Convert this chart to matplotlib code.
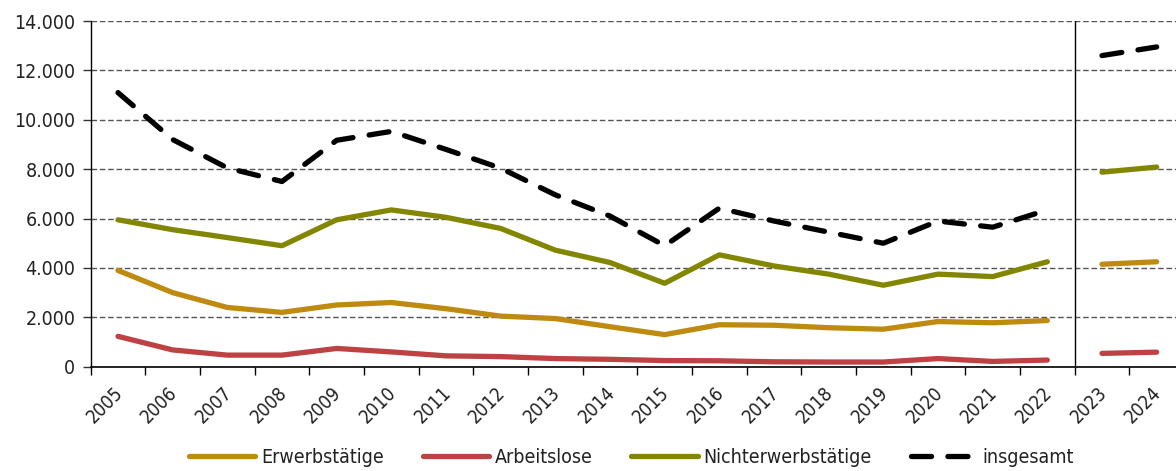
"""
Linienchart: Erwerbstätige, Arbeitslose, Nichterwerbstätige und insgesamt, 2005-2024.
"""
import matplotlib
matplotlib.use("Agg")
import matplotlib.pyplot as plt
import matplotlib.ticker as mticker
import matplotlib.transforms as mtransforms

plt.rcParams['font.family'] = ['DejaVu Sans']
plt.rcParams['font.stretch'] = 'condensed'

jahre = [str(j) for j in range(2005, 2025)]
erwerbstaetige = [3900, 3000, 2400, 2200, 2500, 2600, 2350, 2050, 1950, 1620,
                  1300, 1700, 1680, 1580, 1520, 1830, 1780, 1870, 4150, 4250]
arbeitslose = [1230, 680, 470, 470, 740, 600, 440, 410, 330, 300,
               250, 240, 200, 190, 190, 330, 215, 270, 540, 590]
nichterwerbstaetige = [5950, 5550, 5230, 4900, 5950, 6350, 6050, 5600, 4720, 4220,
                       3380, 4530, 4080, 3750, 3300, 3750, 3650, 4250, 7880, 8085]
insgesamt = [11100, 9200, 8050, 7500, 9170, 9530, 8800, 8040, 6960, 6100,
             4900, 6420, 5900, 5450, 5000, 5900, 5650, 6350, 12600, 12950]

# Bruch zwischen 2022 und 2023
bruch = 18

reihen = [
    ("Erwerbstätige", erwerbstaetige, "#BF8A10", "-"),
    ("Arbeitslose", arbeitslose, "#BE4143", "-"),
    ("Nichterwerbstätige", nichterwerbstaetige, "#838600", "-"),
    ("insgesamt", insgesamt, "black", (0, (3.8, 3.1))),
]

fig = plt.figure(figsize=(11.76, 4.71), dpi=100)
ax = fig.add_axes([0.0771, 0.2214, 0.9297, 0.734])

x = list(range(len(jahre)))
for name, werte, farbe, stil in reihen:
    ax.plot(x[:bruch], werte[:bruch], color=farbe, lw=3.8, linestyle=stil,
            solid_capstyle='round', dash_capstyle='round', label=name, zorder=3)
    ax.plot(x[bruch:], werte[bruch:], color=farbe, lw=3.8, linestyle=stil,
            solid_capstyle='round', dash_capstyle='round', zorder=3)

ax.set_xlim(-0.5, len(jahre) - 0.5)
ax.set_ylim(0, 14000)

# Y-Achse mit deutschem Tausenderpunkt
ax.yaxis.set_major_locator(mticker.MultipleLocator(2000))
ax.yaxis.set_major_formatter(mticker.FuncFormatter(lambda v, p: f"{int(v):,}".replace(",", ".")))
ax.tick_params(axis='y', length=6, width=1, labelsize=14, pad=5, color='#333333',
               labelcolor='#222222')
ax.grid(axis='y', linestyle=(0, (4, 2)), color='#555555', linewidth=1, zorder=1)

# Striche an den Kategoriengrenzen, Beschriftung in der Mitte
ax.set_xticks([i - 0.5 for i in range(len(jahre) + 1)])
ax.set_xticklabels([])
ax.set_xticks(x, minor=True)
ax.set_xticklabels(jahre, minor=True, rotation=45, ha='right', va='top',
                   rotation_mode='anchor', fontsize=13.5, color='#222222')
ax.tick_params(axis='x', which='major', length=6, width=1)
ax.tick_params(axis='x', which='minor', length=0, pad=13)
versatz = mtransforms.ScaledTranslation(-5 / 100, 2 / 100, fig.dpi_scale_trans)
for lbl in ax.get_xticklabels(minor=True):
    lbl.set_transform(lbl.get_transform() + versatz)

ax.axvline(bruch - 0.5, color='black', lw=1, zorder=2)

for s in ['top', 'right']:
    ax.spines[s].set_visible(False)
ax.spines['left'].set_linewidth(1)
ax.spines['bottom'].set_linewidth(1.2)

leg = fig.legend(loc='lower center', bbox_to_anchor=(0.537, -0.028), ncol=4,
                 frameon=False, fontsize=14, handlelength=3.4, handletextpad=0.3,
                 columnspacing=2.0)
for t in leg.get_texts():
    t.set_color('#222222')

fig.savefig("out.png", dpi=100)
